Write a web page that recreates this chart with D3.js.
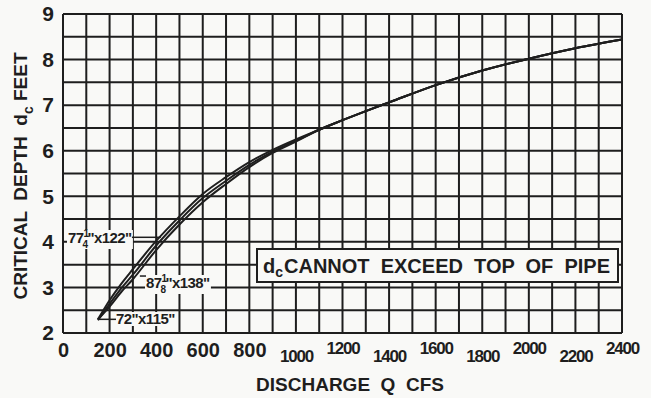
<!DOCTYPE html>
<html>
<head>
<meta charset="utf-8">
<script src="https://cdn.jsdelivr.net/npm/d3@7"></script>
<style>
  body { margin: 0; background: #f9f9f7; }
  svg { display: block; }
  text { font-family: "Liberation Sans", Arial, sans-serif; font-weight: bold; fill: #1e1e1e; white-space: pre; }
</style>
</head>
<body>
<script>
// discharge (cfs) where the three pipe curves still run apart
var qLow = [150, 200, 250, 300, 400, 500, 600, 700, 800, 900, 1000];
var depth72x115 = [2.3, 2.72, 3.08, 3.4, 4.02, 4.56, 5.05, 5.42, 5.75, 6.02, 6.25];
var depth77x122 = [2.28, 2.64, 2.98, 3.28, 3.92, 4.47, 4.96, 5.34, 5.69, 5.98, 6.22];
var depth87x138 = [2.3, 2.58, 2.9, 3.18, 3.82, 4.38, 4.87, 5.27, 5.64, 5.95, 6.2];

// above ~1000 cfs the curves run together
var qHigh = [1100, 1200, 1300, 1400, 1600, 1800, 2000, 2200, 2400];
var depthHigh = [6.46, 6.67, 6.87, 7.06, 7.44, 7.76, 8.02, 8.25, 8.44];

var xTicks = [0, 200, 400, 600, 800, 1000, 1200, 1400, 1600, 1800, 2000, 2200, 2400];
var yTicks = [2, 3, 4, 5, 6, 7, 8, 9];

var width = 651, height = 398;

var svg = d3.select("body").append("svg")
    .attr("width", width)
    .attr("height", height);

// set the ranges
var x = d3.scaleLinear().domain([0, 2400]).range([63, 622]);
var y = d3.scaleLinear().domain([2, 9]).range([333, 14]);

// grid: every 100 cfs and every half foot
svg.append("g")
    .selectAll("line")
    .data(d3.range(0, 2401, 100))
    .enter().append("line")
    .attr("x1", d => x(d)).attr("x2", d => x(d))
    .attr("y1", y(2)).attr("y2", y(9))
    .attr("stroke", "#1e1e1e")
    .attr("stroke-width", 2);

svg.append("g")
    .selectAll("line")
    .data(d3.range(2, 9.01, 0.5))
    .enter().append("line")
    .attr("x1", x(0)).attr("x2", x(2400))
    .attr("y1", d => y(d)).attr("y2", d => y(d))
    .attr("stroke", "#1e1e1e")
    .attr("stroke-width", 2);

// the curves
var line = d3.line()
    .x(d => x(d[0]))
    .y(d => y(d[1]))
    .curve(d3.curveMonotoneX);

[depth72x115, depth77x122, depth87x138].forEach(function(depths) {
  var pts = qLow.map((q, i) => [q, depths[i]])
      .concat(qHigh.map((q, i) => [q, depthHigh[i]]));
  svg.append("path")
      .datum(pts)
      .attr("fill", "none")
      .attr("stroke", "#1e1e1e")
      .attr("stroke-width", 2)
      .attr("d", line);
});

// axes (numbers only, the grid is the frame)
var xAxis = svg.append("g")
    .attr("transform", "translate(0," + y(2) + ")")
    .call(d3.axisBottom(x).tickValues(xTicks).tickFormat(d3.format("d")).tickSize(0).tickPadding(0));
xAxis.select(".domain").remove();
xAxis.selectAll("text")
    .attr("fill", "#1e1e1e")
    .style("font-family", "Liberation Sans, Arial, sans-serif")
    .style("font-weight", "bold")
    .style("font-size", d => d < 1000 ? "20px" : "17px")
    .style("letter-spacing", d => d < 1000 ? "0px" : "-1.2px")
    .attr("dy", null)
    .attr("y", function(d) {
      if (d < 1000) return 24;
      return (d / 200) % 2 === 1 ? 29 : 21;
    });

var yAxis = svg.append("g")
    .attr("transform", "translate(" + x(0) + ",0)")
    .call(d3.axisLeft(y).tickValues(yTicks).tickFormat(d3.format("d")).tickSize(0).tickPadding(9));
yAxis.select(".domain").remove();
yAxis.selectAll("text")
    .attr("fill", "#1e1e1e")
    .style("font-family", "Liberation Sans, Arial, sans-serif")
    .style("font-weight", "bold")
    .style("font-size", "21px");

// axis titles
svg.append("text")
    .attr("x", 350).attr("y", 391)
    .attr("text-anchor", "middle")
    .style("font-size", "19px")
    .text("DISCHARGE  Q  CFS");

var yTitle = svg.append("text")
    .attr("transform", "translate(27,176) rotate(-90)")
    .attr("text-anchor", "middle")
    .style("font-size", "19px");
yTitle.append("tspan").text("CRITICAL  DEPTH  d");
yTitle.append("tspan").attr("dy", 6).style("font-size", "14px").text("c");
yTitle.append("tspan").attr("dy", -6).text(" FEET");

// note box
svg.append("rect")
    .attr("x", 257).attr("y", 249)
    .attr("width", 361).attr("height", 33)
    .attr("fill", "#f9f9f7")
    .attr("stroke", "#1e1e1e")
    .attr("stroke-width", 2);
var note = svg.append("text")
    .attr("x", 263).attr("y", 273)
    .style("font-size", "20px");
note.append("tspan").text("d");
note.append("tspan").attr("dy", 4).style("font-size", "14px").text("c");
note.append("tspan").attr("dy", -4).attr("dx", 1).text("CANNOT  EXCEED  TOP  OF  PIPE");

// pipe labels with stacked fractions
function pipeLabel(px, py, whole, num, den, rest) {
  var g = svg.append("g");
  var t = g.append("text")
      .attr("x", px).attr("y", py)
      .style("font-size", "15px")
      .style("letter-spacing", "-0.6px");
  t.append("tspan").text(whole);
  if (num) {
    t.append("tspan").attr("dy", -6).style("font-size", "10px").text(num);
    t.append("tspan").attr("dx", -6).attr("dy", 11).style("font-size", "10px").text(den);
    t.append("tspan").attr("dy", -5).text(rest);
  } else {
    t.append("tspan").text(rest);
  }
  var bb = t.node().getBBox();
  g.insert("rect", "text")
      .attr("x", bb.x - 1).attr("y", bb.y + 2)
      .attr("width", bb.width + 2).attr("height", bb.height - 3)
      .attr("fill", "#f9f9f7");
  return bb;
}

var b1 = pipeLabel(68, 243, "77", "1", "4", "\"x122\"");
var b2 = pipeLabel(146, 288, "87", "1", "8", "\"x138\"");
var b3 = pipeLabel(116, 324, "72\"", null, null, "x115\"");

// leader lines from labels to curves
svg.append("line")
    .attr("x1", b1.x + b1.width).attr("x2", x(420))
    .attr("y1", y(4.1)).attr("y2", y(4.1))
    .attr("stroke", "#1e1e1e").attr("stroke-width", 1.5);
svg.append("line")
    .attr("x1", x(330)).attr("x2", b2.x)
    .attr("y1", y(3.25)).attr("y2", y(3.25))
    .attr("stroke", "#1e1e1e").attr("stroke-width", 1.5);
svg.append("line")
    .attr("x1", x(150)).attr("x2", b3.x)
    .attr("y1", y(2.3)).attr("y2", y(2.3))
    .attr("stroke", "#1e1e1e").attr("stroke-width", 1.5);
</script>
</body>
</html>
